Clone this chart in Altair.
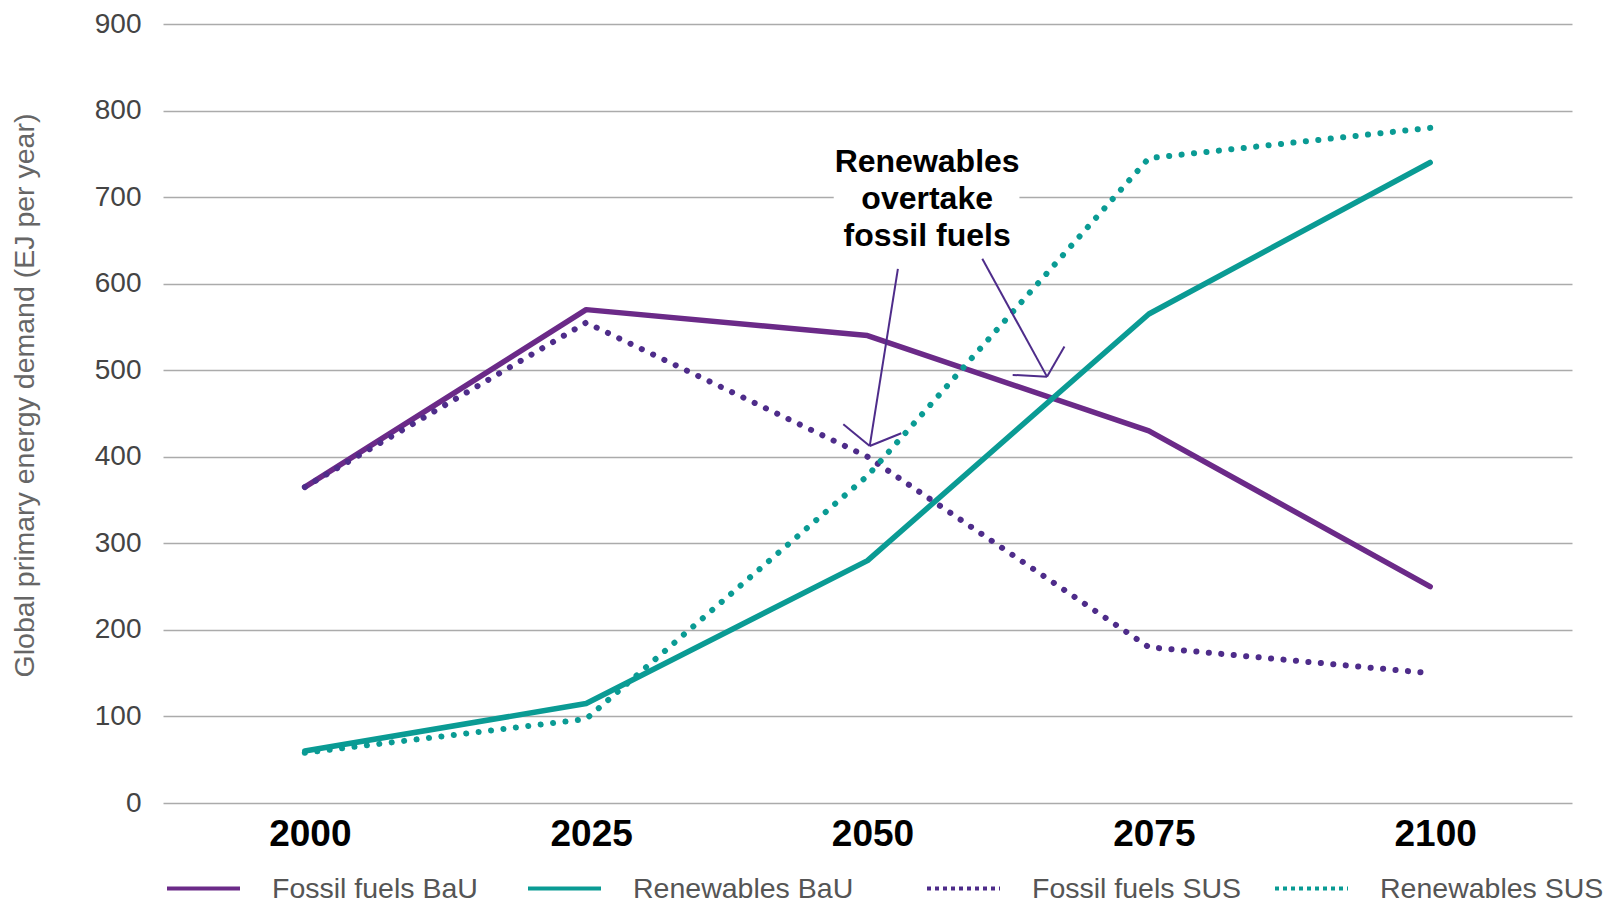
import altair as alt
import pandas as pd

years = [2000, 2025, 2050, 2075, 2100]
fossil_bau = [365, 570, 540, 430, 250]
renew_bau = [60, 115, 280, 565, 740]
fossil_sus = [365, 555, 400, 180, 150]
renew_sus = [58, 97, 378, 745, 780]

bau_names = ["Fossil fuels BaU", "Renewables BaU"]
sus_names = ["Fossil fuels SUS", "Renewables SUS"]

PURPLE = "#6B2A88"
PURPLE_DARK = "#4E2C8A"
TEAL = "#0A9B94"

annot_text = ["Renewables", "overtake", "fossil fuels"]
annot_year = [2055.3]
annot_value = [741]
# white box behind the annotation text
box_year = [2047.0]
box_year2 = [2063.5]
box_value = [680]
box_value2 = [713]
# arrow segments (annotation)
arrow_year = [2052.7, 2047.85, 2053.0, 2060.2, 2062.9, 2067.5]
arrow_value = [617, 437.6, 427.2, 628.7, 494.6, 527.3]
arrow_year2 = [2050.2, 2050.2, 2050.2, 2065.95, 2065.95, 2065.95]
arrow_value2 = [412.5, 412.5, 412.5, 492.6, 492.6, 492.6]

rows = []
for name, vals, style in [
    ("Fossil fuels BaU", fossil_bau, "solid"),
    ("Renewables BaU", renew_bau, "solid"),
    ("Fossil fuels SUS", fossil_sus, "dotted"),
    ("Renewables SUS", renew_sus, "dotted"),
]:
    for yr, v in zip(years, vals):
        rows.append({"year": yr, "value": v, "series": name, "style": style})
df = pd.DataFrame(rows)

all_names = bau_names + sus_names
all_colors = [PURPLE, TEAL, PURPLE_DARK, TEAL]

FONT = "Liberation Sans"

x_scale = alt.Scale(domain=[1987.4, 2112.6], nice=False, zero=False)
y_scale = alt.Scale(domain=[0, 900], nice=False)

x_axis = alt.Axis(values=years, format="d", grid=False, ticks=False, domain=False,
                  labelFontSize=37, labelFontWeight="bold", labelColor="#000000",
                  labelPadding=31, labelBaseline="middle", labelOffset=5, title=None,
                  labelFont=FONT)
y_axis = alt.Axis(values=list(range(0, 901, 100)), grid=True, gridColor="#ababab",
                  gridWidth=1.6, ticks=False, domain=False, labelFontSize=28,
                  labelColor="#444444", labelPadding=22, labelFont=FONT,
                  title="Global primary energy demand (EJ per year)",
                  titleFontSize=28.5, titleColor="#666666", titleFontWeight="normal",
                  titleFont=FONT, titleX=-139, titleY=371, titleAngle=270,
                  titleAlign="center", titleBaseline="middle")

X = alt.X("year:Q", scale=x_scale, axis=x_axis)
Y = alt.Y("value:Q", scale=y_scale, axis=y_axis)

solid = alt.Chart(df).transform_filter(alt.datum.style == "solid").mark_line(
    strokeWidth=5.5, strokeCap="round", strokeJoin="round"
).encode(
    x=X, y=Y,
    color=alt.Color("series:N", scale=alt.Scale(domain=all_names, range=all_colors), legend=None),
    detail="series:N",
)

dotted = alt.Chart(df).transform_filter(alt.datum.style == "dotted").mark_line(
    strokeWidth=6, strokeCap="round", strokeJoin="round", strokeDash=[0.1, 12.4]
).encode(
    x=X, y=Y,
    color=alt.Color("series:N", scale=alt.Scale(domain=all_names, range=all_colors), legend=None),
    detail="series:N",
)

leg_common = dict(orient="none", direction="horizontal", columns=2, title=None,
                  symbolType="stroke", symbolSize=5329, symbolStrokeWidth=4,
                  labelOffset=30, labelFontSize=28.5, labelLimit=0,
                  labelColor="#555555", labelFont=FONT, padding=0)

leg_bau = alt.Chart(df).transform_filter("false").transform_calculate(
    leg_bau="datum.series"
).mark_line(strokeWidth=4).encode(
    x=X, y=Y,
    color=alt.Color("leg_bau:N", scale=alt.Scale(domain=bau_names, range=[PURPLE, TEAL]),
                    legend=alt.Legend(legendX=2, legendY=826, columnPadding=42, **leg_common)),
)

leg_sus = alt.Chart(df).transform_filter("false").transform_calculate(
    leg_sus="datum.series"
).mark_line(strokeWidth=4, strokeDash=[4, 4]).encode(
    x=X, y=Y,
    color=alt.Color("leg_sus:N", scale=alt.Scale(domain=sus_names, range=[PURPLE_DARK, TEAL]),
                    legend=alt.Legend(legendX=762, legendY=826, columnPadding=25,
                                      symbolDash=[4, 4], **leg_common)),
)

box_df = pd.DataFrame({"year": box_year, "year2": box_year2, "value": box_value, "value2": box_value2})
box = alt.Chart(box_df).mark_rect(color="white").encode(
    x=X, x2="year2:Q", y=Y, y2="value2:Q"
)

text_df = pd.DataFrame({"year": annot_year, "value": annot_value, "label": [annot_text]})
text = alt.Chart(text_df).mark_text(
    fontSize=32, fontWeight="bold", font=FONT, color="#000000", lineHeight=37,
    align="center", baseline="middle"
).encode(x=X, y=Y, text="label")

arrow_df = pd.DataFrame({"year": arrow_year, "value": arrow_value,
                         "year2": arrow_year2, "value2": arrow_value2})
arrows = alt.Chart(arrow_df).mark_rule(color=PURPLE_DARK, strokeWidth=2).encode(
    x=X, y=Y, x2="year2:Q", y2="value2:Q"
)

chart = alt.layer(box, solid, dotted, arrows, text, leg_bau, leg_sus).resolve_scale(
    color="independent"
).properties(
    width=1409, height=779,
    padding={"left": 155, "top": 16, "right": 36, "bottom": 102},
    autosize=alt.AutoSizeParams(type="none"),
    background="white",
).configure(font=FONT).configure_view(stroke=None)

chart.save("out.html", embed_options={"renderer": "svg", "actions": False})
